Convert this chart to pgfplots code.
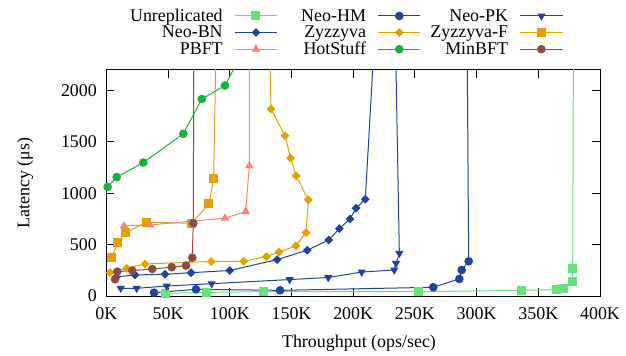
\documentclass[border=0pt]{standalone}
\usepackage{fontspec}
\setmainfont{Liberation Serif}
\usepackage{pgfplots}
\pgfplotsset{compat=1.18}
\definecolor{lgreen}{HTML}{66E27B}
\definecolor{nblue}{HTML}{1F449C}
\definecolor{zorange}{HTML}{E69F00}
\definecolor{salmon}{HTML}{F8847A}
\definecolor{hgreen}{HTML}{1AAF3A}
\definecolor{brownm}{HTML}{8E4B3F}
\newcommand{\lc}[2]{\makebox[#1][r]{#2\hspace*{11.6bp}}}
\begin{document}
\begin{tikzpicture}
\useasboundingbox (-106.4bp,-60bp) rectangle (519.6bp,296bp);
\begin{axis}[
  scale only axis,
  width=493.6bp, height=226bp,
  xmin=0, xmax=400, ymin=0, ymax=2200,
  xtick={0,50,100,150,200,250,300,350,400},
  xticklabels={0K,50K,100K,150K,200K,250K,300K,350K,400K},
  ytick={0,500,1000,1500,2000},
  /pgf/number format/assume math mode=true,
  /pgf/number format/1000 sep={},
  font=\fontsize{18}{20}\selectfont,
  tick label style={font=\fontsize{18}{20}\selectfont},
  xticklabel style={yshift=-8bp},
  yticklabel style={xshift=-6bp},
  tick align=inside,
  major tick length=8bp,
  tick style={line width=1bp, black},
  axis line style={line width=1bp},
  xlabel={Throughput (ops/sec)},
  ylabel={Latency (μs)},
  xlabel style={at={(axis description cs:0.5118,-0.2102)}, anchor=center},
  ylabel style={at={(axis description cs:-0.1649,0.5)}, anchor=center},
  every axis plot/.append style={line width=1bp},
  legend columns=3,
  legend plot pos=right,
  legend image code/.code={\draw[mark repeat=2,mark phase=2,#1] plot coordinates {(0bp,0bp) (21.2bp,0bp) (42.4bp,0bp)};},
  legend style={draw=none, fill=none, inner sep=0pt, outer sep=0pt,
    column sep=0pt, row sep=3bp, nodes={inner sep=0pt},
    font=\fontsize{18}{18.5}\selectfont,
    at={(axis description cs:0.0411,1.27)}, anchor=north west},
]
% Unreplicated
\addplot[color=lgreen, mark=square*, mark size=4bp] coordinates {
(47.5,26) (81.3,35) (127.2,42) (252.8,42) (336.5,55) (364.9,62) (370.3,70) (377.9,140) (377.9,263) (378.6,3000)};
\addlegendentry{\lc{107.6bp}{Unreplicated}}
% Neo-HM
\addplot[color=nblue, mark=*, mark size=3.8bp] coordinates {
(38.6,32) (72.6,65) (140.7,55) (264.9,85) (286,166) (287.9,253) (293.6,338) (292,3000)};
\addlegendentry{\lc{99.9bp}{Neo-HM}}
% Neo-PK
\addplot[color=nblue, mark=triangle*, mark size=3.8bp, mark options={rotate=180}] coordinates {
(11.6,75) (24.5,75) (48.9,97) (85.3,120) (148.5,160) (179.8,180) (206.9,233) (233.2,253) (234.7,318) (237.4,416) (233.5,3000)};
\addlegendentry{\lc{98.7bp}{Neo-PK}}
% Neo-BN
\addplot[color=nblue, mark=square*, mark size=2.6bp, mark options={rotate=45}] coordinates {
(8,185) (23.2,205) (47.5,211) (68.6,227) (100,248) (138.3,354) (162.7,445) (180.2,546) (188.8,656) (197.4,750) (202.3,855) (209.8,942) (219.6,3000)};
\addlegendentry{\lc{107.6bp}{Neo-BN}}
% Zyzzyva
\addplot[color=zorange, mark=square*, mark size=2.6bp, mark options={rotate=45}] coordinates {
(2.9,229) (16.4,270) (31.3,312) (85,336) (111.3,338) (129.6,383) (139.9,429) (153.5,488) (161.8,617) (163.6,936) (153.7,1170) (149.3,1342) (144.7,1560) (133.4,1820) (131.3,3000)};
\addlegendentry{\lc{99.9bp}{Zyzzyva}}
% Zyzzyva-F
\addplot[color=zorange, mark=square*, mark size=4bp] coordinates {
(4.3,377) (9.1,520) (15.6,617) (32.6,718) (69.1,708) (83.1,897) (86.9,1144) (89.7,3000)};
\addlegendentry{\lc{98.7bp}{Zyzzyva-F}}
% PBFT
\addplot[color=salmon, mark=triangle*, mark size=4bp] coordinates {
(14.3,682) (35.3,692) (96.1,757) (112.9,822) (115.8,1267) (115.9,3000)};
\addlegendentry{\lc{107.6bp}{PBFT}}
% HotStuff
\addplot[color=hgreen, mark=*, mark size=3.8bp] coordinates {
(1,1062) (8.3,1157) (29.9,1299) (62.3,1579) (77.3,1917) (96.1,2049) (130,2820)};
\addlegendentry{\lc{99.9bp}{HotStuff}}
% MinBFT
\addplot[color=brownm, mark=*, mark size=3.8bp] coordinates {
(7,163) (8.8,237) (21,247) (37.2,263) (52.9,280) (64.5,296) (69.6,373) (70.4,708) (71,3000)};
\addlegendentry{\lc{98.7bp}{MinBFT}}
\end{axis}
\end{tikzpicture}
\end{document}
